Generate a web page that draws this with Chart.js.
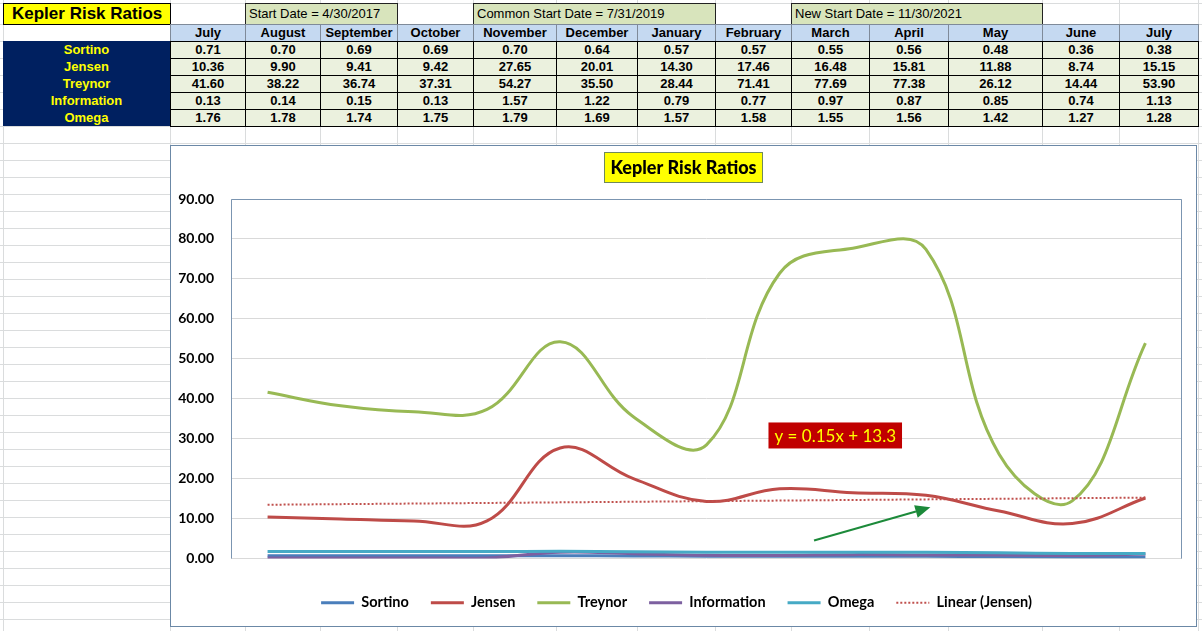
<!DOCTYPE html>
<html>
<head>
<meta charset="utf-8">
<title>Kepler Risk Ratios</title>
<script src="https://cdn.jsdelivr.net/npm/chart.js@4.4.1/dist/chart.umd.min.js"></script>
<style>
  html, body { margin: 0; padding: 0; background: #fff; }
  body { width: 1202px; height: 631px; position: relative; overflow: hidden; font-family: "Liberation Sans", Arial, sans-serif; }
  .gl { position: absolute; background: #dadcdd; }
  .c { position: absolute; box-sizing: border-box; font-size: 13px; font-weight: bold; text-align: center; white-space: nowrap; overflow: hidden; }
  .hdr { background: #c5d9f1; border: 1px solid #7f8a99; line-height: 15px; }
  .lab { background: #002060; color: #ffff00; line-height: 17px; }
  .val { background: #ebf1de; border: 1px solid #000; line-height: 15px; }
  .box { position: absolute; box-sizing: border-box; border: 1px solid #222; font-size: 13px; line-height: 19px; padding-left: 3px; white-space: nowrap; }
  #chartBox { position: absolute; left: 170px; top: 145px; width: 1027px; height: 482px; box-sizing: border-box; border: 1px solid #6b88a6; background: #fff; }
</style>
</head>
<body>
<div id="sheet"></div>
<div id="chartBox"><canvas id="chart"></canvas></div>
<script>
// table + chart data
const months = ["July", "August", "September", "October", "November", "December", "January", "February", "March", "April", "May", "June", "July"];
const sortino = [0.71, 0.70, 0.69, 0.69, 0.70, 0.64, 0.57, 0.57, 0.55, 0.56, 0.48, 0.36, 0.38];
const jensen = [10.36, 9.90, 9.41, 9.42, 27.65, 20.01, 14.30, 17.46, 16.48, 15.81, 11.88, 8.74, 15.15];
const treynor = [41.60, 38.22, 36.74, 37.31, 54.27, 35.50, 28.44, 71.41, 77.69, 77.38, 26.12, 14.44, 53.90];
const information = [0.13, 0.14, 0.15, 0.13, 1.57, 1.22, 0.79, 0.77, 0.97, 0.87, 0.85, 0.74, 1.13];
const omega = [1.76, 1.78, 1.74, 1.75, 1.79, 1.69, 1.57, 1.58, 1.55, 1.56, 1.42, 1.27, 1.28];
const yTicks = [0, 10, 20, 30, 40, 50, 60, 70, 80, 90];
const titleText = "Kepler Risk Ratios";

// sheet layout
const colEdges = [3, 170, 245, 320, 397, 473, 556, 637, 715, 791, 869, 948, 1042, 1119, 1198];
const dateBoxes = [
  { text: "Start Date = 4/30/2017", from: 2, to: 4 },
  { text: "Common Start Date = 7/31/2019", from: 5, to: 8 },
  { text: "New Start Date = 11/30/2021", from: 9, to: 12 }
];
const rowH = 17, hdrTop = 24, dataTop = 41;

const sheet = document.getElementById("sheet");
function add(cls, css, text) {
  const d = document.createElement("div");
  d.className = cls;
  Object.assign(d.style, css);
  if (text !== undefined) d.textContent = text;
  sheet.appendChild(d);
  return d;
}

// spreadsheet gridlines
colEdges.forEach(x => add("gl", { left: x + "px", top: "0px", width: "1px", height: "631px" }));
[3, hdrTop].forEach(y => add("gl", { left: "0px", top: y + "px", width: "1202px", height: "1px" }));
for (let y = dataTop; y < 631; y += rowH) add("gl", { left: "0px", top: y + "px", width: "1202px", height: "1px" });

// row 1 boxes
add("box", { left: "3px", top: "3px", width: (colEdges[1] - 3 + 1) + "px", height: "22px", background: "#ffff00",
  fontWeight: "bold", fontSize: "17px", lineHeight: "20px", paddingLeft: "8px", borderColor: "#000" }, titleText);
dateBoxes.forEach(b => {
  add("box", { left: colEdges[b.from] + "px", top: "3px", width: (colEdges[b.to] - colEdges[b.from] + 1) + "px", height: "22px", background: "#d8e4bc" }, b.text);
});

// row 2 headers
months.forEach((m, i) => {
  add("c hdr", { left: colEdges[i + 1] + "px", top: hdrTop + "px", width: (colEdges[i + 2] - colEdges[i + 1] + 1) + "px", height: (rowH + 1) + "px" }, m);
});

// data rows
const rows = [["Sortino", sortino], ["Jensen", jensen], ["Treynor", treynor], ["Information", information], ["Omega", omega]];
rows.forEach(([name, vals], r) => {
  const top = dataTop + r * rowH;
  add("c lab", { left: "3px", top: top + "px", width: (colEdges[1] - 3) + "px", height: rowH + "px" }, name);
  vals.forEach((v, i) => {
    add("c val", { left: colEdges[i + 1] + "px", top: top + "px", width: (colEdges[i + 2] - colEdges[i + 1] + 1) + "px", height: (rowH + 1) + "px" }, v.toFixed(2));
  });
});

// linear trendline of Jensen, x = 1..n like Excel
function linearFit(ys) {
  const n = ys.length;
  const mx = (n + 1) / 2;
  const my = ys.reduce((s, v) => s + v, 0) / n;
  let sxy = 0, sxx = 0;
  ys.forEach((v, i) => { sxy += (i + 1 - mx) * (v - my); sxx += (i + 1 - mx) ** 2; });
  const slope = sxy / sxx;
  return { slope, intercept: my - slope * mx };
}
const fit = linearFit(jensen);
const jensenTrend = jensen.map((_, i) => fit.intercept + fit.slope * (i + 1));
const eqText = "y = " + fit.slope.toFixed(2) + "x + " + fit.intercept.toFixed(1);

// annotation spots, in data units (category index, value)
const eqAt = [7.76, 30.8];
const arrowFrom = [7.47, 4.5];
const arrowTo = [9.06, 12.8];

const decor = {
  id: "decor",
  beforeDatasetsDraw(chart) {
    const { ctx, chartArea: a } = chart;
    ctx.save();
    ctx.strokeStyle = "#7b95b1";
    ctx.lineWidth = 1;
    ctx.beginPath();
    ctx.moveTo(a.left + 0.5, a.bottom);
    ctx.lineTo(a.left + 0.5, a.top + 0.5);
    ctx.lineTo(a.right - 0.5, a.top + 0.5);
    ctx.lineTo(a.right - 0.5, a.bottom);
    ctx.stroke();
    ctx.restore();
  },
  afterDraw(chart) {
    const { ctx, scales: { x, y } } = chart;
    ctx.save();
    ctx.textAlign = "center";
    ctx.textBaseline = "middle";

    // title box
    ctx.font = "900 18px Lato";
    const tw = ctx.measureText(titleText).width + 12;
    const cx = chart.width / 2;
    ctx.fillStyle = "#ffff00";
    ctx.fillRect(cx - tw / 2, 6, tw, 31);
    ctx.strokeStyle = "#6f8a5c";
    ctx.lineWidth = 1;
    ctx.strokeRect(Math.round(cx - tw / 2) + 0.5, 6.5, Math.round(tw), 30);
    ctx.fillStyle = "#000";
    ctx.fillText(titleText, cx, 22);

    // trendline equation
    ctx.font = "17px Lato";
    const ew = ctx.measureText(eqText).width + 12;
    const ex = x.getPixelForValue(eqAt[0]);
    const ey = y.getPixelForValue(eqAt[1]);
    ctx.fillStyle = "#c00000";
    ctx.fillRect(ex - ew / 2, ey - 13, ew, 26);
    ctx.fillStyle = "#ffff00";
    ctx.fillText(eqText, ex, ey + 1);

    // arrow
    const x1 = x.getPixelForValue(arrowFrom[0]), y1 = y.getPixelForValue(arrowFrom[1]);
    const x2 = x.getPixelForValue(arrowTo[0]), y2 = y.getPixelForValue(arrowTo[1]);
    const ang = Math.atan2(y2 - y1, x2 - x1);
    const head = 15, half = 6.5;
    const bx = x2 - head * Math.cos(ang), by = y2 - head * Math.sin(ang);
    ctx.strokeStyle = "#1c8a3a";
    ctx.fillStyle = "#1c8a3a";
    ctx.lineWidth = 2;
    ctx.beginPath();
    ctx.moveTo(x1, y1);
    ctx.lineTo(bx, by);
    ctx.stroke();
    ctx.beginPath();
    ctx.moveTo(x2, y2);
    ctx.lineTo(bx + half * Math.sin(ang), by - half * Math.cos(ang));
    ctx.lineTo(bx - half * Math.sin(ang), by + half * Math.cos(ang));
    ctx.closePath();
    ctx.fill();
    ctx.restore();
  }
};

function line(label, data, color, order) {
  return { label, data, borderColor: color, backgroundColor: color, borderWidth: 3, pointRadius: 0, tension: 0.4, fill: false, order };
}

new Chart(document.getElementById("chart"), {
  type: "line",
  data: {
    labels: months,
    datasets: [
      line("Sortino", sortino, "#4a7ebb", 6),
      line("Jensen", jensen, "#be4b48", 5),
      line("Treynor", treynor, "#98b954", 4),
      line("Information", information, "#7d60a0", 3),
      line("Omega", omega, "#46aac5", 2),
      { label: "Linear (Jensen)", data: jensenTrend, borderColor: "#c0504d", backgroundColor: "#c0504d",
        borderWidth: 2, borderDash: [2, 2], pointRadius: 0, tension: 0, fill: false, order: 1 }
    ]
  },
  options: {
    responsive: true,
    maintainAspectRatio: false,
    animation: false,
    layout: { padding: { top: 53, right: 14, bottom: 6, left: 0 } },
    plugins: {
      title: { display: false },
      tooltip: { enabled: false },
      legend: {
        position: "bottom",
        labels: {
          usePointStyle: true,
          pointStyle: "line",
          pointStyleWidth: 33,
          padding: 22,
          color: "#000",
          font: { family: "Lato", size: 14.5, weight: "bold" },
          generateLabels(chart) {
            const items = Chart.defaults.plugins.legend.labels.generateLabels(chart);
            items.forEach(it => {
              const ds = chart.data.datasets[it.datasetIndex];
              it.lineDash = ds.borderDash || [];
              it.lineWidth = ds.borderWidth;
              it.strokeStyle = ds.borderColor;
            });
            return items.sort((a, b) => a.datasetIndex - b.datasetIndex);
          }
        }
      }
    },
    scales: {
      x: {
        offset: true,
        grid: { display: false },
        border: { display: false },
        ticks: { color: "#000", padding: 8, autoSkip: false, maxRotation: 0, font: { family: "Lato", size: 11, weight: "bold" } },
        afterFit(s) { s.height = 15; }
      },
      y: {
        min: yTicks[0],
        max: yTicks[yTicks.length - 1],
        grid: { color: "#d9d9d9", lineWidth: 1, drawTicks: false },
        border: { display: false },
        afterBuildTicks(s) { s.ticks = yTicks.map(v => ({ value: v })); },
        ticks: { color: "#000", padding: 17, font: { family: "Lato", size: 14, weight: "bold" }, callback: v => Number(v).toFixed(2) },
        afterFit(s) { s.width = 60; }
      }
    }
  },
  plugins: [decor]
});
</script>
</body>
</html>
